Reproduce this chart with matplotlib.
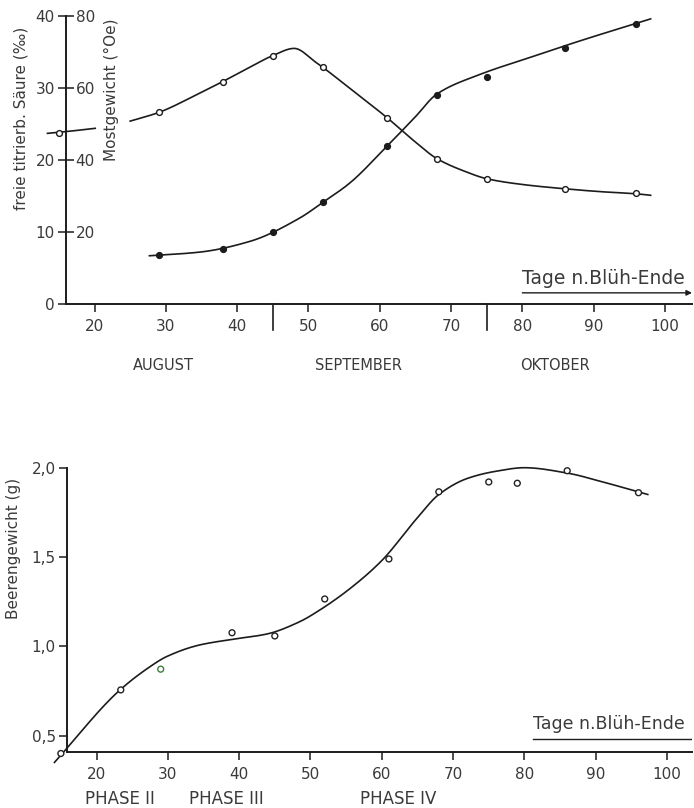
import numpy as np
import matplotlib
matplotlib.use("Agg")
import matplotlib.pyplot as plt
from matplotlib.ticker import FuncFormatter

plt.rcParams['font.family'] = ['DejaVu Sans']

# --- top chart: acid (open circles, %o) and must weight (filled, degrees Oechsle)
acid_days = [15, 29, 38, 45, 52, 61, 68, 75, 86, 96]
acid_vals = [23.8, 26.6, 30.9, 34.4, 32.9, 25.9, 20.2, 17.4, 16.0, 15.4]
sugar_days = [29, 38, 45, 52, 61, 68, 75, 86, 96]
sugar_oe = [13.7, 15.3, 20.1, 28.2, 43.8, 58.0, 63.0, 71.1, 77.8]

# hand-drawn fitted curves
acid_curve1_days = [13.4, 16.5, 20.1]
acid_curve1_vals = [23.7, 24.0, 24.4]
acid_curve_days = [25, 29, 34, 38, 42, 45, 48, 51, 56, 61, 65,
                   68, 72, 75, 80, 86, 91, 96, 98]
acid_curve_vals = [25.4, 26.6, 28.9, 30.9, 33.0, 34.5, 35.5, 33.6, 29.8, 25.9,
                   22.5, 20.2, 18.4, 17.4, 16.6, 16.0, 15.6, 15.3, 15.1]
sugar_curve_days = [27.7, 34.7, 41.8, 48.8, 52, 55.8, 61, 65, 68, 74.1, 81.1,
                    88.1, 98]
sugar_curve_oe = [13.4, 14.4, 17.4, 23.9, 28.2, 33.6, 43.8, 52.0, 58.3, 63.8,
                  68.5, 73.1, 79.2]

months = ['AUGUST', 'SEPTEMBER', 'OKTOBER']
month_label_days = [29.6, 57.0, 84.6]
month_bounds = [45, 75]

# --- bottom chart: berry weight (g)
berry_days = [15, 23.4, 29, 39, 45, 52, 61, 68, 75, 79, 86, 96]
berry_g = [0.40, 0.756, 0.872, 1.076, 1.058, 1.265, 1.489, 1.865, 1.92, 1.913,
           1.983, 1.86]
berry_colors = ['#222222', '#222222', '#3f7a3f'] + ['#222222'] * 9
berry_curve_days = [14.1, 23.3, 27.5, 29.8, 34.5, 39.2, 43.9, 48.5,
                    51.3, 55.6, 60, 65, 68, 72, 76, 80, 86, 91, 97.3]
berry_curve_g = [0.35, 0.756, 0.886, 0.942, 1.008, 1.04, 1.069,
                 1.138, 1.203, 1.325, 1.48, 1.72, 1.85, 1.94, 1.98, 2.00, 1.97,
                 1.92, 1.85]

phases = ['PHASE II', 'PHASE III', 'PHASE IV']
phase_label_days = [23.3, 38.2, 62.3]

INK = '#1c1c1c'
TXT = '#3a3a3a'


def smooth(xs, ys, n=30):
    # monotone cubic (pchip) through the knots, no overshoot
    x = np.asarray(xs, float)
    y = np.asarray(ys, float)
    h = np.diff(x)
    dl = np.diff(y) / h
    m = np.zeros_like(y)
    m[0], m[-1] = dl[0], dl[-1]
    for i in range(1, len(x) - 1):
        if dl[i - 1] * dl[i] > 0:
            w1 = 2 * h[i] + h[i - 1]
            w2 = h[i] + 2 * h[i - 1]
            m[i] = (w1 + w2) / (w1 / dl[i - 1] + w2 / dl[i])
    out_x, out_y = [], []
    for i in range(len(x) - 1):
        t = np.linspace(0, 1, n, endpoint=False)
        h00 = 2 * t**3 - 3 * t**2 + 1
        h10 = t**3 - 2 * t**2 + t
        h01 = -2 * t**3 + 3 * t**2
        h11 = t**3 - t**2
        out_x.append(x[i] + t * h[i])
        out_y.append(h00 * y[i] + h10 * h[i] * m[i] + h01 * y[i + 1] + h11 * h[i] * m[i + 1])
    out_x.append([x[-1]])
    out_y.append([y[-1]])
    return np.concatenate(out_x), np.concatenate(out_y)


fig = plt.figure(figsize=(6.94, 8.08), dpi=100)

# ---------------- top chart
ax = fig.add_axes([66 / 694, 1 - 304 / 808, 626 / 694, 288 / 808])
ax.set_xlim(16, 103.8)
ax.set_ylim(0, 40)
for s in ['top', 'right']:
    ax.spines[s].set_visible(False)
for s in ['left', 'bottom']:
    ax.spines[s].set_linewidth(1.4)
    ax.spines[s].set_color(INK)
ax.set_xticks(range(20, 101, 10))
ax.set_yticks([0, 10, 20, 30, 40])
ax.tick_params(axis='both', direction='out', length=6, width=1.1, color=INK,
               labelsize=11, labelcolor=TXT)
ax.tick_params(axis='x', pad=5)
ax.tick_params(axis='y', pad=2)

ax2 = ax.twinx()
ax2.set_ylim(0, 80)
for s in ['top', 'left', 'bottom']:
    ax2.spines[s].set_visible(False)
ax2.spines['right'].set_position(('axes', 0))
ax2.spines['right'].set_visible(False)
ax2.set_yticks([20, 40, 60, 80])
ax2.tick_params(axis='y', direction='out', length=6, width=1.1, color=INK,
                labelsize=11, labelcolor=TXT, pad=1)

cx, cy = smooth(acid_curve1_days, acid_curve1_vals)
ax.plot(cx, cy, color=INK, lw=1.2, clip_on=False)
cx, cy = smooth(acid_curve_days, acid_curve_vals)
ax.plot(cx, cy, color=INK, lw=1.2, clip_on=False)
ax.plot(acid_days, acid_vals, 'o', ms=4.2, mfc='white', mec=INK, mew=1.0,
        clip_on=False, zorder=5)

cx, cy = smooth(sugar_curve_days, sugar_curve_oe)
ax2.plot(cx, cy, color=INK, lw=1.2, clip_on=False)
ax2.plot(sugar_days, sugar_oe, 'o', ms=4.2, mfc=INK, mec=INK, clip_on=False,
         zorder=5)

for d in month_bounds:
    ax.plot([d, d], [0, -3.6], color=INK, lw=1.2, clip_on=False)
for name, d in zip(months, month_label_days):
    ax.text(d, -8.5, name, ha='center', va='center', fontsize=10.5, color=TXT,
            clip_on=False)

ax.text(80, 3.6, 'Tage n.Blüh-Ende', ha='left', va='center', fontsize=13.5,
        color=TXT)
ax.annotate('', xy=(103.8, 1.55), xytext=(80, 1.55),
            arrowprops=dict(arrowstyle='-|>', color=INK, lw=1.0,
                            mutation_scale=8, shrinkA=0, shrinkB=0))

fig.text(21 / 694, 1 - 118 / 808, 'freie titrierb. Säure (‰)', rotation=90,
         ha='center', va='center', fontsize=11, color=TXT)
fig.text(111 / 694, 1 - 90 / 808, 'Mostgewicht (°Oe)', rotation=90,
         ha='center', va='center', fontsize=11, color=TXT)

# ---------------- bottom chart
bx = fig.add_axes([67 / 694, 1 - 751.7 / 808, 625 / 694, 284 / 808])
bx.set_xlim(15.86, 103.5)
bx.set_ylim(0.41, 2.0)
for s in ['top', 'right']:
    bx.spines[s].set_visible(False)
for s in ['left', 'bottom']:
    bx.spines[s].set_linewidth(1.4)
    bx.spines[s].set_color(INK)
bx.set_xticks(range(20, 101, 10))
bx.set_yticks([0.5, 1.0, 1.5, 2.0])
bx.yaxis.set_major_formatter(FuncFormatter(lambda v, p: f'{v:.1f}'.replace('.', ',')))
bx.tick_params(axis='both', direction='out', length=6, width=1.1, color=INK,
               labelsize=11, labelcolor=TXT)
bx.tick_params(axis='x', pad=5)
bx.tick_params(axis='y', pad=2)

cx, cy = smooth(berry_curve_days, berry_curve_g)
bx.plot(cx, cy, color=INK, lw=1.2, clip_on=False)
bx.scatter(berry_days, berry_g, s=18, facecolors='white',
           edgecolors=berry_colors, linewidths=1.0, clip_on=False, zorder=5)

for name, d in zip(phases, phase_label_days):
    bx.text(d, 0.146, name, ha='center', va='center', fontsize=12,
            color=TXT, clip_on=False)

bx.text(81.2, 0.565, 'Tage n.Blüh-Ende', ha='left', va='center',
        fontsize=12.5, color=TXT)
bx.plot([81.2, 103.5], [0.48, 0.48], color=INK, lw=1.0)

fig.text(14 / 694, 1 - 548 / 808, 'Beerengewicht (g)', rotation=90,
         ha='center', va='center', fontsize=11, color=TXT)

fig.savefig('out.png', dpi=100, facecolor='white')
